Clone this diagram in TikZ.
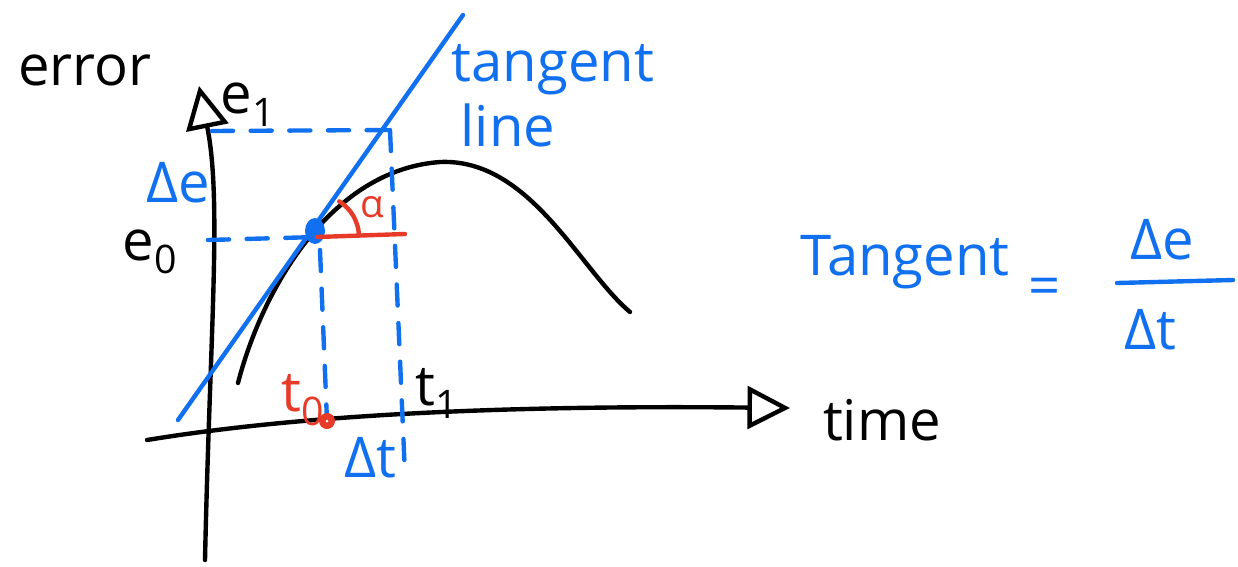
\documentclass[tikz,border=0pt]{standalone}
\usepackage{fontspec}
\setmainfont{Open Sans}
\usetikzlibrary{arrows.meta}
\definecolor{penblue}{RGB}{16,112,240}
\definecolor{penred}{RGB}{232,58,40}
\tikzset{
  pen/.style={line width=2.5pt, line cap=round, line join=round},
  guide/.style={pen, penblue, dash pattern=on 12pt off 10pt},
  hand/.style={font=\fontsize{32}{36}\selectfont, inner sep=0pt},
  axis/.style={pen, -{Triangle[open, length=0.85cm, width=0.85cm]}}
}
\begin{document}
\begin{tikzpicture}[x=0.02cm, y=-0.02cm]
    \useasboundingbox (0,0) rectangle (1238,566);
    \coordinate (P) at (317,237);
    \coordinate (T0) at (327,421);
    \draw[axis] (205,560) .. controls (210,330) and (222,200) .. (199,86);
    \draw[axis] (147,440) .. controls (300,415) and (500,405) .. (790,408);
    \draw[pen] (238,383) .. controls (262,290) and (330,170) .. (440,162) .. controls (530,158) and (580,270) .. (630,312);
    \draw[pen, penblue] (178,420) -- (463,15);
    \draw[guide] (208,240) -- (P);
    \draw[guide] (212,131) -- (388,130);
    \draw[guide] (P) ++(3,13) -- (T0);
    \draw[guide] (390,130) -- (405,475);
    \fill[penblue] (315,231) ellipse (10 and 13);
    \draw[pen, penred] (P) -- (405,234);
    \draw[pen, penred] (P) ++(-58:42) arc[start angle=-58, end angle=-3, radius=42];
    \fill[penred] (T0) circle (8);
    \fill[white] (T0) circle (1.5);
    \node[hand] (err) at (85,70) {error};
    \node[hand] (e1) at (248,105) {e\textsubscript{1}};
    \node[hand, penblue] (de) at (178,183) {Δe};
    \node[hand] (e0) at (150,252) {e\textsubscript{0}};
    \node[hand, penred] (t0) at (303,400) {t\textsubscript{0}};
    \node[hand] (t1) at (437,393) {t\textsubscript{1}};
    \node[hand, penblue] (dt) at (370,458) {Δt};
    \node[hand] (tm) at (882,420) {time};
    \node[hand, penblue] (tg) at (553,70) {tangent};
    \node[hand, penblue] (ln) at (508,125) {line};
    \node[hand, penred, font=\fontsize{22}{26}\selectfont] (al) at (372,207) {α};
    \node[hand, penblue] (tan) at (905,262) {Tangent};
    \node[hand, penblue] (eq) at (1045,292) {=};
    \node[hand, penblue] (num) at (1162,240) {Δe};
    \node[hand, penblue] (den) at (1150,330) {Δt};
    \draw[pen, penblue] (1117,283) -- (1233,280);
\end{tikzpicture}
\end{document}
